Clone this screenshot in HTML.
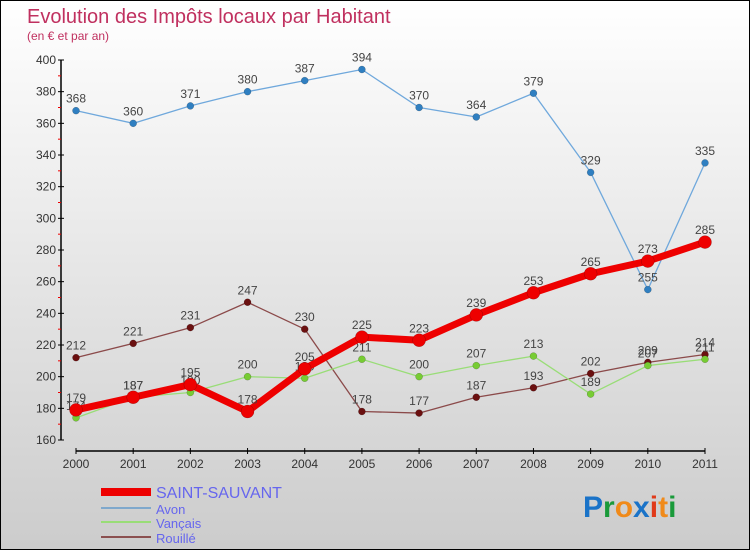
<!DOCTYPE html>
<html><head><meta charset="utf-8"><style>
html,body{margin:0;padding:0}
body{width:750px;height:550px;overflow:hidden;font-family:"Liberation Sans",sans-serif}
#wrap{position:relative;width:748px;height:548px;border:1px solid #000;background:linear-gradient(#fff,#ccc)}
</style></head><body>
<div id="wrap">
<svg id="chart" width="748" height="548" style="position:absolute;left:0;top:0">
<text x="26" y="22" font-size="20" fill="#c0305f">Evolution des Impôts locaux par Habitant</text>
<text x="26" y="39" font-size="12" fill="#c0305f">(en € et par an)</text>
<g id="axes"></g><g id="series"></g><g id="legend"></g>
<text x="582" y="516" font-size="30" font-weight="bold"><tspan fill="#1a73c8">P</tspan><tspan fill="#1a9a3a">r</tspan><tspan fill="#f08a1a">o</tspan><tspan fill="#1a73c8">x</tspan><tspan fill="#e03a1a">i</tspan><tspan fill="#f08a1a">t</tspan><tspan fill="#1a9a3a">i</tspan></text>
</svg>
</div>
<script>
const years=[2000,2001,2002,2003,2004,2005,2006,2007,2008,2009,2010,2011];
const yTicks=[160,180,200,220,240,260,280,300,320,340,360,380,400];
const saintSauvant=[179,187,195,178,205,225,223,239,253,265,273,285];
const avon=[368,360,371,380,387,394,370,364,379,329,255,335];
const vancais=[174,187,190,200,199,211,200,207,213,189,207,211];
const rouille=[212,221,231,247,230,178,177,187,193,202,209,214];
const NS="http://www.w3.org/2000/svg";
function xS(i){return 75+i*(629/11);}
function yS(v){return 439-(v-160)*(380/240);}
function mk(t,a,p){const e=document.createElementNS(NS,t);for(const k in a)e.setAttribute(k,a[k]);p.appendChild(e);return e;}
const ax=document.getElementById('axes');
const yl=mk('line',{x1:60,y1:yS(400),x2:60,y2:yS(160),stroke:'#000','stroke-width':1.5},ax);


yTicks.forEach((v,i)=>{
 mk('line',{x1:57,x2:63,y1:yS(v),y2:yS(v),stroke:'#000'},ax);
 if(i<yTicks.length-1)mk('line',{x1:57,x2:60,y1:yS(v+10),y2:yS(v+10),stroke:'#e00'},ax);
 const t=mk('text',{x:55,y:yS(v)+4,'text-anchor':'end','font-size':12,fill:'#333'},ax);
 t.textContent=v;
 
 
});
const xl=mk('line',{x1:75,y1:450,x2:704,y2:450,stroke:'#000','stroke-width':1.5},ax);


years.forEach((y,i)=>{
 mk('line',{x1:xS(i),x2:xS(i),y1:447,y2:453,stroke:'#000'},ax);
 const t=mk('text',{x:xS(i),y:467,'text-anchor':'middle','font-size':12,fill:'#333'},ax);
 t.textContent=y;
 
 
});
const sg=document.getElementById('series');
function series(data,name,color,w,r,dot){
 const g=mk('g',{},sg);
 
 
 const pl=mk('polyline',{points:data.map((v,i)=>xS(i)+','+yS(v)).join(' '),fill:'none',stroke:color,'stroke-width':w,'stroke-linejoin':'round'},g);
 
 
 data.forEach((v,i)=>{
  const c=mk('circle',{cx:xS(i),cy:yS(v),r:r,fill:dot,stroke:'rgba(0,0,0,0.3)','stroke-width':0.5},g);
  
  
  const t=mk('text',{x:xS(i),y:yS(v)-8,'text-anchor':'middle','font-size':12,fill:'#444'},g);
  t.textContent=v;
  
  
 });
}
series(avon,'avon','#6fa8dc',1.3,3.5,'#2f7fc1');
series(rouille,'rouille','#8b4a4a',1.3,3.5,'#6b1010');
series(vancais,'vancais','#99dd77',1.3,3.5,'#77cc33');
series(saintSauvant,'saint-sauvant','#ee0000',7,6.5,'#ee0000');
const lg=document.getElementById('legend');
const items=[['SAINT-SAUVANT','#ee0000',8,14],['Avon','#7fa8cc',2,11],['Vançais','#99dd77',2,11],['Rouillé','#8b5050',2,11]];
const ly=[491,507,521,536];
items.forEach((it,i)=>{
 const l=mk('line',{x1:100,x2:150,y1:ly[i],y2:ly[i],stroke:it[1],'stroke-width':it[2]},lg);
 
 
 const t=mk('text',{x:155,y:ly[i]+6,'font-size':it[3]+2,fill:'#6666ee'},lg);
 t.textContent=it[0];
 
 
});
</script>
</body></html>
